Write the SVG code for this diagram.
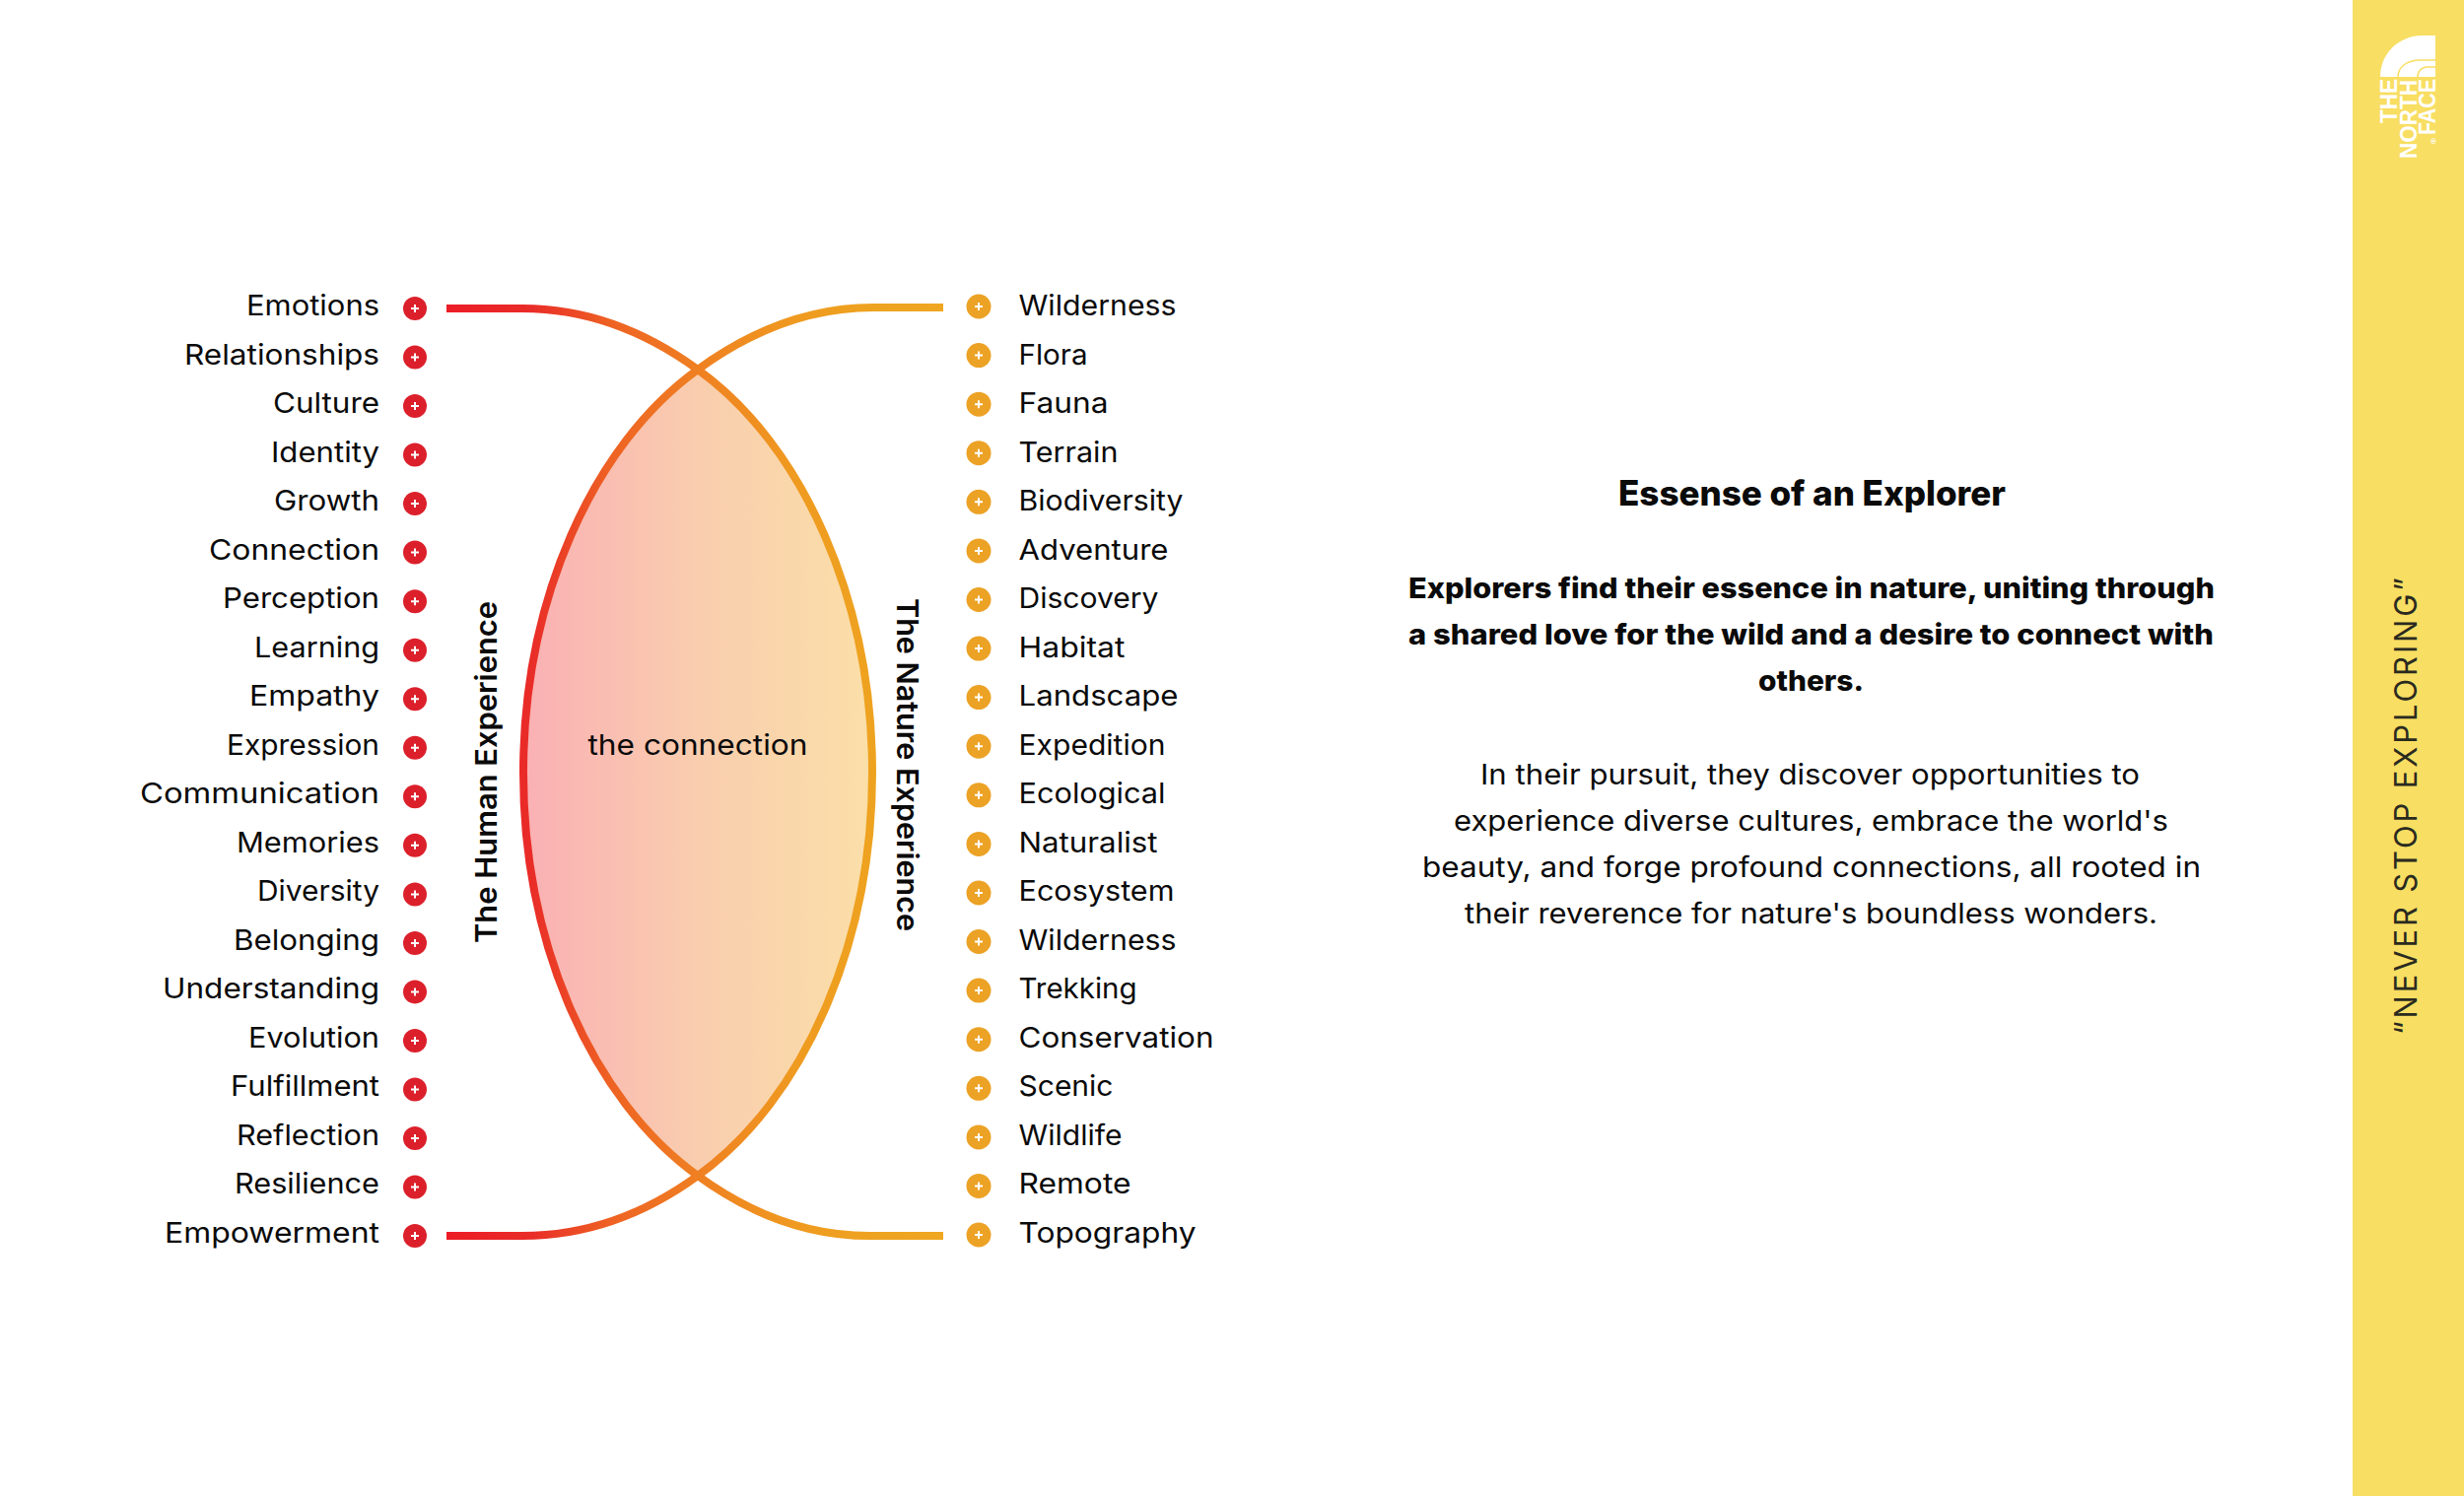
<svg xmlns="http://www.w3.org/2000/svg" width="2500" height="1518" viewBox="0 0 2500 1518">
<style>
text{font-family:"Inter","Liberation Sans",sans-serif;fill:#0a0a0a}
.l{font-size:29px;font-weight:400}
.b{font-size:29px;font-weight:800}
.r{font-size:29px;font-weight:400}
.s{font-size:30px;font-weight:600}
.logo{font-family:"Liberation Sans",Arial,sans-serif;font-weight:700;fill:#fff;font-size:24px}
.edge{fill:none;stroke:url(#st);stroke-width:8}
</style>
<defs>
<linearGradient id="st" gradientUnits="userSpaceOnUse" x1="453" y1="0" x2="957" y2="0">
<stop offset="0" stop-color="#ec1c26"/><stop offset=".17" stop-color="#e92c28"/><stop offset=".33" stop-color="#ee6223"/><stop offset=".5" stop-color="#ef7f22"/><stop offset=".7" stop-color="#ef9a20"/><stop offset=".86" stop-color="#eea320"/><stop offset="1" stop-color="#efa621"/>
</linearGradient>
<linearGradient id="lens" gradientUnits="userSpaceOnUse" x1="531" y1="0" x2="885" y2="0">
<stop offset="0" stop-color="#fab0b4"/><stop offset=".5" stop-color="#f9cdae"/><stop offset="1" stop-color="#fbdfa8"/>
</linearGradient>
<g id="pr"><circle r="12" fill="#dc202b"/><path d="M-4 0H4M0-4V4" stroke="#fff" stroke-width="2"/></g>
<g id="po"><circle r="12.5" fill="#eca225"/><path d="M-4 0H4M0-4V4" stroke="#fff" stroke-width="2"/></g>
</defs>
<rect width="2500" height="1518" fill="#fff"/>
<g id="band">
<rect x="2387" y="0" width="113" height="1518" fill="#f8de62"/>
<text transform="translate(2452 1050) rotate(-90)" textLength="464" lengthAdjust="spacing" style="font-size:31px;font-weight:400;fill:#2a2a20">“NEVER STOP EXPLORING”</text>
</g>
<g id="logo">
<path d="M2415 78C2415 54 2434 36 2458 36H2471V78Z" fill="#fff"/>
<path d="M2433 78C2433 68 2442 61 2456 61H2471M2453 78C2453 72 2457 68 2463 68H2471" fill="none" stroke="#f8de62" stroke-width="1.5"/>
<text class="logo" transform="translate(2432 125) rotate(-90)" textLength="45" lengthAdjust="spacingAndGlyphs">THE</text>
<text class="logo" transform="translate(2452 161) rotate(-90)" textLength="80" lengthAdjust="spacingAndGlyphs">NORTH</text>
<text class="logo" transform="translate(2471 137) rotate(-90)" textLength="57" lengthAdjust="spacingAndGlyphs">FACE</text>
<text class="logo" transform="translate(2472 146) rotate(-90)" style="font-size:8px">®</text>
</g>
<g id="lens-shape"><path d="M708 375C815 452 885 610 885 784C885 958 815 1116 708 1193C601 1116 531 958 531 784C531 610 601 452 708 375Z" fill="url(#lens)"/></g>
<g id="connectors">
<path class="edge" d="M453 313H530C600 313 660 340 708 375C815 452 885 610 885 784C885 958 815 1116 708 1193C660 1228 600 1254 530 1254H453"/>
<path class="edge" d="M957 312H886C816 312 756 340 708 375C601 452 531 610 531 784C531 958 601 1116 708 1193C756 1228 816 1255 886 1254H957"/>
</g>
<g id="center-label"><text class="l" x="596.5" y="765.5" textLength="223" lengthAdjust="spacingAndGlyphs">the connection</text></g>
<g id="human-label"><text class="s" transform="translate(504 957) rotate(-90)" textLength="347" lengthAdjust="spacingAndGlyphs">The Human Experience</text></g>
<g id="nature-label"><text class="s" transform="translate(910 607) rotate(90)" textLength="338" lengthAdjust="spacingAndGlyphs">The Nature Experience</text></g>
<g id="human-items">
<g id="h1"><text class="l" x="250" y="320" textLength="135" lengthAdjust="spacingAndGlyphs">Emotions</text><use href="#pr" x="421" y="313"/></g>
<g id="h2"><text class="l" x="187" y="369.5" textLength="198" lengthAdjust="spacingAndGlyphs">Relationships</text><use href="#pr" x="421" y="362.5"/></g>
<g id="h3"><text class="l" x="277" y="419" textLength="108" lengthAdjust="spacingAndGlyphs">Culture</text><use href="#pr" x="421" y="412"/></g>
<g id="h4"><text class="l" x="275" y="468.5" textLength="110" lengthAdjust="spacingAndGlyphs">Identity</text><use href="#pr" x="421" y="461.6"/></g>
<g id="h5"><text class="l" x="278" y="518" textLength="107" lengthAdjust="spacingAndGlyphs">Growth</text><use href="#pr" x="421" y="511.1"/></g>
<g id="h6"><text class="l" x="212" y="567.5" textLength="173" lengthAdjust="spacingAndGlyphs">Connection</text><use href="#pr" x="421" y="560.6"/></g>
<g id="h7"><text class="l" x="226" y="617" textLength="159" lengthAdjust="spacingAndGlyphs">Perception</text><use href="#pr" x="421" y="610.2"/></g>
<g id="h8"><text class="l" x="258" y="666.5" textLength="127" lengthAdjust="spacingAndGlyphs">Learning</text><use href="#pr" x="421" y="659.7"/></g>
<g id="h9"><text class="l" x="253" y="716" textLength="132" lengthAdjust="spacingAndGlyphs">Empathy</text><use href="#pr" x="421" y="709.2"/></g>
<g id="h10"><text class="l" x="230" y="765.5" textLength="155" lengthAdjust="spacingAndGlyphs">Expression</text><use href="#pr" x="421" y="758.8"/></g>
<g id="h11"><text class="l" x="142" y="815" textLength="243" lengthAdjust="spacingAndGlyphs">Communication</text><use href="#pr" x="421" y="808.3"/></g>
<g id="h12"><text class="l" x="240" y="864.5" textLength="145" lengthAdjust="spacingAndGlyphs">Memories</text><use href="#pr" x="421" y="857.8"/></g>
<g id="h13"><text class="l" x="261" y="914" textLength="124" lengthAdjust="spacingAndGlyphs">Diversity</text><use href="#pr" x="421" y="907.4"/></g>
<g id="h14"><text class="l" x="237" y="963.5" textLength="148" lengthAdjust="spacingAndGlyphs">Belonging</text><use href="#pr" x="421" y="956.9"/></g>
<g id="h15"><text class="l" x="165" y="1013" textLength="220" lengthAdjust="spacingAndGlyphs">Understanding</text><use href="#pr" x="421" y="1006.4"/></g>
<g id="h16"><text class="l" x="252" y="1062.5" textLength="133" lengthAdjust="spacingAndGlyphs">Evolution</text><use href="#pr" x="421" y="1056"/></g>
<g id="h17"><text class="l" x="234" y="1112" textLength="151" lengthAdjust="spacingAndGlyphs">Fulfillment</text><use href="#pr" x="421" y="1105.5"/></g>
<g id="h18"><text class="l" x="240" y="1161.5" textLength="145" lengthAdjust="spacingAndGlyphs">Reflection</text><use href="#pr" x="421" y="1155"/></g>
<g id="h19"><text class="l" x="238" y="1211" textLength="147" lengthAdjust="spacingAndGlyphs">Resilience</text><use href="#pr" x="421" y="1204.6"/></g>
<g id="h20"><text class="l" x="167" y="1260.5" textLength="218" lengthAdjust="spacingAndGlyphs">Empowerment</text><use href="#pr" x="421" y="1254"/></g>
</g>
<g id="nature-items">
<g id="n1"><use href="#po" x="993" y="311"/><text class="l" x="1033.5" y="320" textLength="160" lengthAdjust="spacingAndGlyphs">Wilderness</text></g>
<g id="n2"><use href="#po" x="993" y="360.6"/><text class="l" x="1033.5" y="369.5" textLength="70" lengthAdjust="spacingAndGlyphs">Flora</text></g>
<g id="n3"><use href="#po" x="993" y="410.2"/><text class="l" x="1033.5" y="419" textLength="91" lengthAdjust="spacingAndGlyphs">Fauna</text></g>
<g id="n4"><use href="#po" x="993" y="459.7"/><text class="l" x="1033.5" y="468.5" textLength="101" lengthAdjust="spacingAndGlyphs">Terrain</text></g>
<g id="n5"><use href="#po" x="993" y="509.3"/><text class="l" x="1033.5" y="518" textLength="167" lengthAdjust="spacingAndGlyphs">Biodiversity</text></g>
<g id="n6"><use href="#po" x="993" y="558.9"/><text class="l" x="1033.5" y="567.5" textLength="152" lengthAdjust="spacingAndGlyphs">Adventure</text></g>
<g id="n7"><use href="#po" x="993" y="608.5"/><text class="l" x="1033.5" y="617" textLength="142" lengthAdjust="spacingAndGlyphs">Discovery</text></g>
<g id="n8"><use href="#po" x="993" y="658.1"/><text class="l" x="1033.5" y="666.5" textLength="108" lengthAdjust="spacingAndGlyphs">Habitat</text></g>
<g id="n9"><use href="#po" x="993" y="707.6"/><text class="l" x="1033.5" y="716" textLength="162" lengthAdjust="spacingAndGlyphs">Landscape</text></g>
<g id="n10"><use href="#po" x="993" y="757.2"/><text class="l" x="1033.5" y="765.5" textLength="149" lengthAdjust="spacingAndGlyphs">Expedition</text></g>
<g id="n11"><use href="#po" x="993" y="806.8"/><text class="l" x="1033.5" y="815" textLength="149" lengthAdjust="spacingAndGlyphs">Ecological</text></g>
<g id="n12"><use href="#po" x="993" y="856.4"/><text class="l" x="1033.5" y="864.5" textLength="141" lengthAdjust="spacingAndGlyphs">Naturalist</text></g>
<g id="n13"><use href="#po" x="993" y="906"/><text class="l" x="1033.5" y="914" textLength="158" lengthAdjust="spacingAndGlyphs">Ecosystem</text></g>
<g id="n14"><use href="#po" x="993" y="955.5"/><text class="l" x="1033.5" y="963.5" textLength="160" lengthAdjust="spacingAndGlyphs">Wilderness</text></g>
<g id="n15"><use href="#po" x="993" y="1005.1"/><text class="l" x="1033.5" y="1013" textLength="120" lengthAdjust="spacingAndGlyphs">Trekking</text></g>
<g id="n16"><use href="#po" x="993" y="1054.7"/><text class="l" x="1033.5" y="1062.5" textLength="198" lengthAdjust="spacingAndGlyphs">Conservation</text></g>
<g id="n17"><use href="#po" x="993" y="1104.3"/><text class="l" x="1033.5" y="1112" textLength="96" lengthAdjust="spacingAndGlyphs">Scenic</text></g>
<g id="n18"><use href="#po" x="993" y="1153.9"/><text class="l" x="1033.5" y="1161.5" textLength="105" lengthAdjust="spacingAndGlyphs">Wildlife</text></g>
<g id="n19"><use href="#po" x="993" y="1203.4"/><text class="l" x="1033.5" y="1211" textLength="114" lengthAdjust="spacingAndGlyphs">Remote</text></g>
<g id="n20"><use href="#po" x="993" y="1253"/><text class="l" x="1033.5" y="1260.5" textLength="180" lengthAdjust="spacingAndGlyphs">Topography</text></g>
</g>
<g id="copy">
<text class="b" x="1642" y="513" textLength="393" lengthAdjust="spacingAndGlyphs" style="font-size:35px">Essense of an Explorer</text>
<text class="b" x="1429" y="607" textLength="818" lengthAdjust="spacingAndGlyphs">Explorers find their essence in nature, uniting through</text>
<text class="b" x="1429" y="654" textLength="817" lengthAdjust="spacingAndGlyphs">a shared love for the wild and a desire to connect with</text>
<text class="b" x="1784" y="701" textLength="107" lengthAdjust="spacingAndGlyphs">others.</text>
<text class="r" x="1502" y="796" textLength="669" lengthAdjust="spacingAndGlyphs">In their pursuit, they discover opportunities to</text>
<text class="r" x="1475" y="843" textLength="725" lengthAdjust="spacingAndGlyphs">experience diverse cultures, embrace the world's</text>
<text class="r" x="1443" y="890" textLength="790" lengthAdjust="spacingAndGlyphs">beauty, and forge profound connections, all rooted in</text>
<text class="r" x="1486" y="937" textLength="703" lengthAdjust="spacingAndGlyphs">their reverence for nature's boundless wonders.</text>
</g>
</svg>
